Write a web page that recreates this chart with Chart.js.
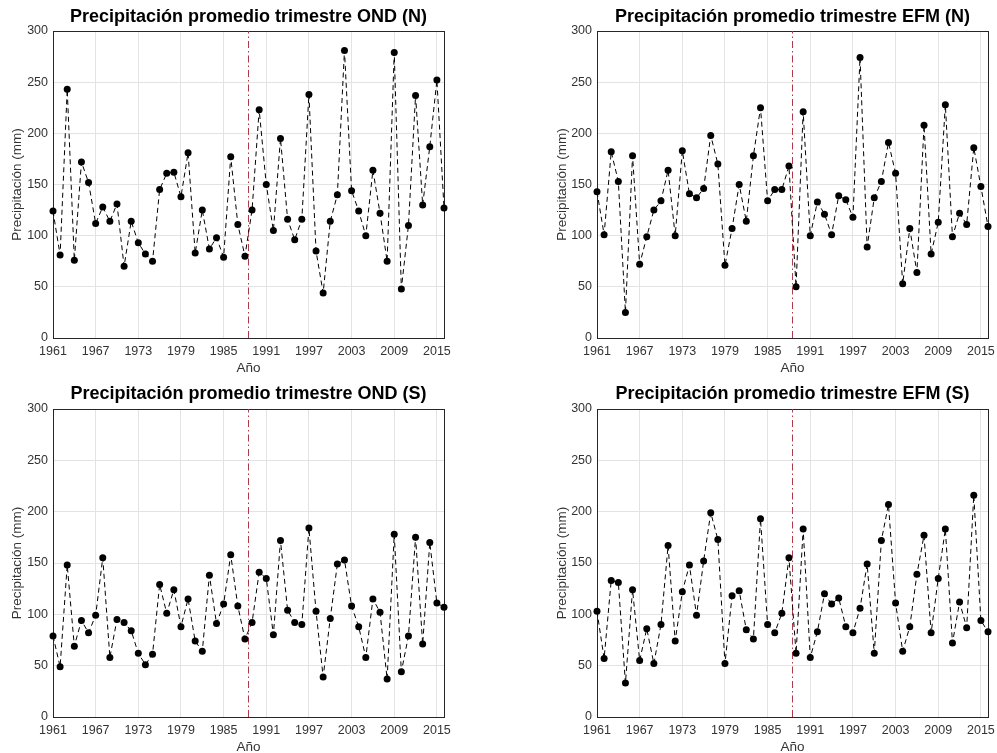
<!DOCTYPE html>
<html><head><meta charset="utf-8">
<script src="https://cdn.jsdelivr.net/npm/chart.js@4/dist/chart.umd.min.js"></script>
<style>
html,body{margin:0;padding:0;background:#fff;overflow:hidden;width:997px;height:753px;position:relative;}
canvas{position:absolute;}
</style></head><body>
<canvas id="c0"></canvas><canvas id="c1"></canvas><canvas id="c2"></canvas><canvas id="c3"></canvas>
<script>
// ---- data ----
const years = [1961,1962,1963,1964,1965,1966,1967,1968,1969,1970,1971,1972,1973,1974,1975,1976,1977,1978,1979,1980,
  1981,1982,1983,1984,1985,1986,1987,1988,1989,1990,1991,1992,1993,1994,1995,1996,1997,1998,1999,2000,
  2001,2002,2003,2004,2005,2006,2007,2008,2009,2010,2011,2012,2013,2014,2015,2016];
const xTickLabels = [1961,1967,1973,1979,1985,1991,1997,2003,2009,2015];
const yTickLabels = [0,50,100,150,200,250,300];
const changeYear = 1988.5;

const ondN = [124,81,243,76,172,152,112,128,114,131, 70,114,93,82,75,145,161,162,138,181,
  83,125,87,98,79,177,111,80,125,223, 150,105,195,116,96,116,238,85,44,114,
  140,281,144,124,100,164,122,75,279,48, 110,237,130,187,252,127];
const efmN = [143,101,182,153,25,178,72,99,125,134, 164,100,183,141,137,146,198,170,71,107,
  150,114,178,225,134,145,145,168,50,221, 100,133,121,101,139,135,118,274,89,137,
  153,191,161,53,107,64,208,82,113,228, 99,122,111,186,148,109];
const ondS = [79,49,148,69,94,82,99,155,58,95, 92,84,62,51,61,129,101,124,88,115,
  74,64,138,91,110,158,108,76,92,141, 135,80,172,104,92,90,184,103,39,96,
  149,153,108,88,58,115,102,37,178,44, 79,175,71,170,111,107];
const efmS = [103,57,133,131,33,124,55,86,52,90, 167,74,122,148,99,152,199,173,52,118,
  123,85,76,193,90,82,101,155,62,183, 58,83,120,110,116,88,82,106,149,62,
  172,207,111,64,88,139,177,82,135,183, 72,112,87,216,94,83];

const titles = ['Precipitación promedio trimestre OND (N)','Precipitación promedio trimestre EFM (N)',
  'Precipitación promedio trimestre OND (S)','Precipitación promedio trimestre EFM (S)'];
const series = [ondN, efmN, ondS, efmS];

// ---- layout ----
const panels = [
  {left:0,   top:0,   w:498, h:376, pad:{left:5, right:54, top:0, bottom:0}, yW:48, tPad:{top:6.5, bottom:2.9}},
  {left:498, top:0,   w:499, h:376, pad:{left:52, right:9, top:0, bottom:0}, yW:47, tPad:{top:6.5, bottom:2.9}},
  {left:0,   top:376, w:498, h:380, pad:{left:5, right:54, top:0, bottom:1}, yW:48, tPad:{top:7.7, bottom:3.7}},
  {left:498, top:376, w:499, h:380, pad:{left:52, right:9, top:0, bottom:1}, yW:47, tPad:{top:7.7, bottom:3.7}}
];

const FONT = "'Liberation Sans', Arial, Helvetica, sans-serif";
const boxPlugin = {
  id:'box',
  beforeDatasetsDraw(chart){
    const a = chart.chartArea, ctx = chart.ctx;
    ctx.save();
    ctx.strokeStyle = '#262626';
    ctx.lineWidth = 1;
    ctx.strokeRect(Math.round(a.left)+0.5, Math.round(a.top)+0.5, Math.round(a.right-a.left), Math.round(a.bottom-a.top));
    ctx.restore();
  }
};

panels.forEach((p, i) => {
  const cv = document.getElementById('c'+i);
  cv.width = p.w; cv.height = p.h;
  cv.style.left = p.left+'px'; cv.style.top = p.top+'px';
  cv.style.width = p.w+'px'; cv.style.height = p.h+'px';
  const pts = years.map((y, k) => ({x:y, y:series[i][k]}));
  new Chart(cv, {
    type:'line',
    data:{datasets:[
      {data:pts, borderColor:'#000', borderWidth:1, borderDash:[5,3.5], pointRadius:3.5,
       pointBackgroundColor:'#000', pointBorderWidth:0, tension:0, clip:false},
      {data:[{x:changeYear,y:yTickLabels[0]},{x:changeYear,y:yTickLabels[yTickLabels.length-1]}],
       borderColor:'#b03a48', borderWidth:1, borderDash:[7,3,1.5,3], pointRadius:0}
    ]},
    options:{
      responsive:false, animation:false, devicePixelRatio:1,
      events:[],
      layout:{padding:p.pad, autoPadding:false},
      plugins:{
        legend:{display:false}, tooltip:{enabled:false},
        title:{display:true, text:titles[i], fullSize:false, color:'#000',
          font:{family:FONT, size:18, weight:'bold'}, padding:p.tPad}
      },
      scales:{
        x:{type:'linear', min:years[0], max:years[years.length-1],
          afterBuildTicks(ax){ ax.ticks = xTickLabels.map(v=>({value:v})); },
          afterFit(ax){ ax.height = 38; ax.paddingLeft = 0; ax.paddingRight = 0; },
          ticks:{autoSkip:false, maxRotation:0, padding:6, color:'#333', font:{family:FONT, size:12.5},
            callback:(v)=>String(v)},
          grid:{color:'#e3e3e3', lineWidth:1, drawTicks:false},
          border:{display:true, color:'#262626'},
          title:{display:true, text:'Año', color:'#333', font:{family:FONT, size:13.5}, padding:{top:0,bottom:0}}
        },
        y:{type:'linear', min:yTickLabels[0], max:yTickLabels[yTickLabels.length-1],
          afterBuildTicks(ax){ ax.ticks = yTickLabels.map(v=>({value:v})); },
          afterFit(ax){ ax.width = p.yW; ax.paddingTop = 0; ax.paddingBottom = 0; },
          ticks:{autoSkip:false, padding:5, color:'#333', font:{family:FONT, size:12.5},
            callback:(v)=>String(v)},
          grid:{color:'#e3e3e3', lineWidth:1, drawTicks:false},
          border:{display:true, color:'#262626'},
          title:{display:true, text:'Precipitación (mm)', color:'#333', font:{family:FONT, size:13.5}, padding:{top:4,bottom:4}}
        }
      }
    },
    plugins:[boxPlugin]
  });
});
</script>
</body></html>
